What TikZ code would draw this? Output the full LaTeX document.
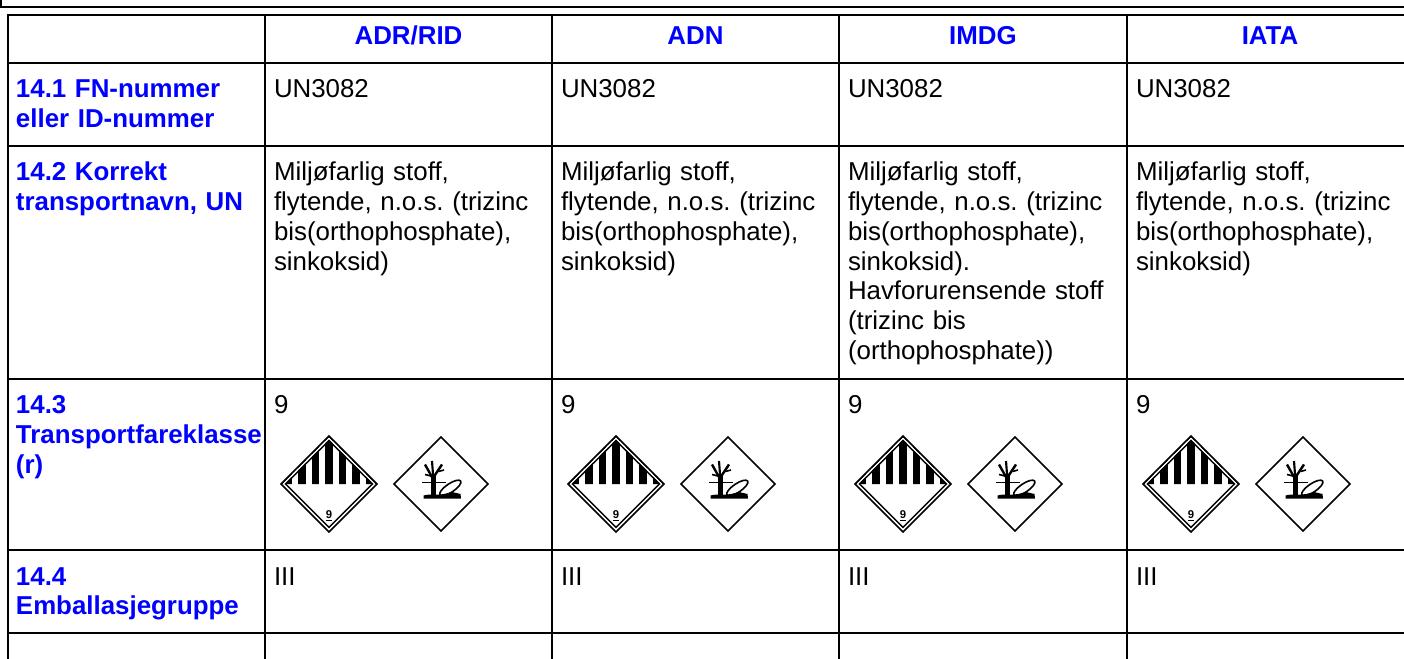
\documentclass[tikz,border=0pt]{standalone}
\usepackage{fontspec}
\setmainfont{Liberation Sans}
\usetikzlibrary{positioning}
\definecolor{headblue}{RGB}{0,0,255}
\frenchspacing

\begin{document}
\begin{tikzpicture}[x=0.75pt, y=-0.75pt,
            every node/.style={inner sep=0pt, outer sep=0pt},
            head/.style={font=\fontsize{19.4}{22.3}\selectfont\bfseries, text=headblue, anchor=base},
            rowhead/.style={font=\fontsize{19.4}{22.3}\selectfont\bfseries, text=headblue, anchor=base west, text width=195pt, align=left},
            cell/.style={font=\fontsize{19.4}{22.3}\selectfont, anchor=base west, text width=210pt, align=left},
            hline/.style={line width=2.1pt},
            vline/.style={line width=1.6pt},
            sign/.style={line width=1.1pt}
        ]
        \useasboundingbox (0,0) rectangle (1404,659);

        % Frame above the table
        \draw[hline] (0,7) -- (1404,7);
        \draw[hline] (1,0) -- (1,7);

        % Table rules
        \foreach \y in {15,63,146,379,550,633}
            \draw[hline] (8,\y) -- (1404,\y);
        \draw[hline] (8,14) -- (8,659);
        \foreach \x in {265,552,839,1127}
            \draw[vline] (\x,15) -- (\x,659);

        % Header row
        \node[head] (hd-adr) at (408.5,45) {ADR/RID};
        \node[head] (hd-adn) at (695.5,45) {ADN};
        \node[head] (hd-imdg) at (983,45) {IMDG};
        \node[head] (hd-iata) at (1270,45) {IATA};

        % Row headers
        \node[rowhead] (un-number) at (16,98) {14.1 FN-nummer\\eller ID-nummer};
        \node[rowhead] (ship-name) at (16,181) {14.2 Korrekt\\transportnavn, UN};
        \node[rowhead] (haz-class) at (16,414) {14.3\\Transportfareklasse\\(r)};
        \node[rowhead] (pack-group) at (16,585) {14.4\\Emballasjegruppe};

        % Cells
        \foreach \cx/\tag in {265/adr, 552/adn, 839/imdg, 1127/iata} {
            \node[cell] (un-\tag) at (\cx+9,98) {UN3082};
            \node[cell] (class-\tag) at (\cx+9,414) {9};
            \node[cell] (group-\tag) at (\cx+9,585) {III};
        }
        \foreach \cx/\tag in {265/adr, 552/adn, 1127/iata}
            \node[cell] (name-\tag) at (\cx+9,181) {Milj\o farlig stoff,\\flytende, n.o.s. (trizinc\\bis(orthophosphate),\\sinkoksid)};
        \node[cell] (name-imdg) at (848,181) {Milj\o farlig stoff,\\flytende, n.o.s. (trizinc\\bis(orthophosphate),\\sinkoksid).\\Havforurensende stoff\\(trizinc bis\\(orthophosphate))};

        % Hazard labels
        \foreach \cx/\tag in {265/adr, 552/adn, 839/imdg, 1127/iata} {
            % class 9 label
            \begin{scope}[shift={(\cx+64,484)}]
                \begin{scope}
                    \clip (-48,0) -- (0,-48) -- (48,0) -- cycle;
                    \foreach \k in {-2,...,2}
                        \fill (\k*13.5-3.8,-48) rectangle (\k*13.5+3.8,0.5);
                    \fill (-48,-48) rectangle (-37,0.5);
                    \fill (37,-48) rectangle (48,0.5);
                    \draw[white, line width=1.1pt] (-45.6,0) -- (0,-45.6) -- (45.6,0);
                \end{scope}
                \draw[sign] (-48,0) -- (0,-48) -- (48,0) -- (0,48) -- cycle;
                \draw[sign] (-43.3,0) -- (0,-43.3) -- (43.3,0) -- (0,43.3) -- cycle;
                \node[font=\fontsize{8.5}{8.5}\selectfont\bfseries, anchor=base] (nine-\tag) at (0,34) {\underline{9}};
            \end{scope}
            % environment label
            \begin{scope}[shift={(\cx+176,484)}]
                \draw[sign] (-47,0) -- (0,-47) -- (47,0) -- (0,47) -- cycle;
                \draw[line width=3.2pt] (-7.5,12) -- (-7.5,-10);
                \draw[line width=1.8pt] (-9,-7) -- (-16,-19.5);
                \draw[line width=1.6pt] (-8,-10) -- (-9,-23);
                \draw[line width=1.8pt] (-6,-9) -- (1,-19.5);
                \draw[line width=1.2pt] (-2.5,-12.5) -- (3,-14);
                \draw[line width=1.2pt] (-10,-8) -- (-16,-9.5);
                \draw[line width=1.1pt] (-19,-1.7) -- (4.5,-1.7);
                \draw[line width=1.2pt, fill=white, shift={(9.3,4)}, rotate=34] (0,0) ellipse [x radius=12.5, y radius=4.3];
                \fill (-17.5,14.5) -- (-17.5,11.5) .. controls (-10,9.5) and (-3,11.5) .. (3,10) -- (11,8) .. controls (15,8.5) .. (19.5,10) -- (20,14.5) -- cycle;
            \end{scope}
        }

    \end{tikzpicture}
\end{document}
